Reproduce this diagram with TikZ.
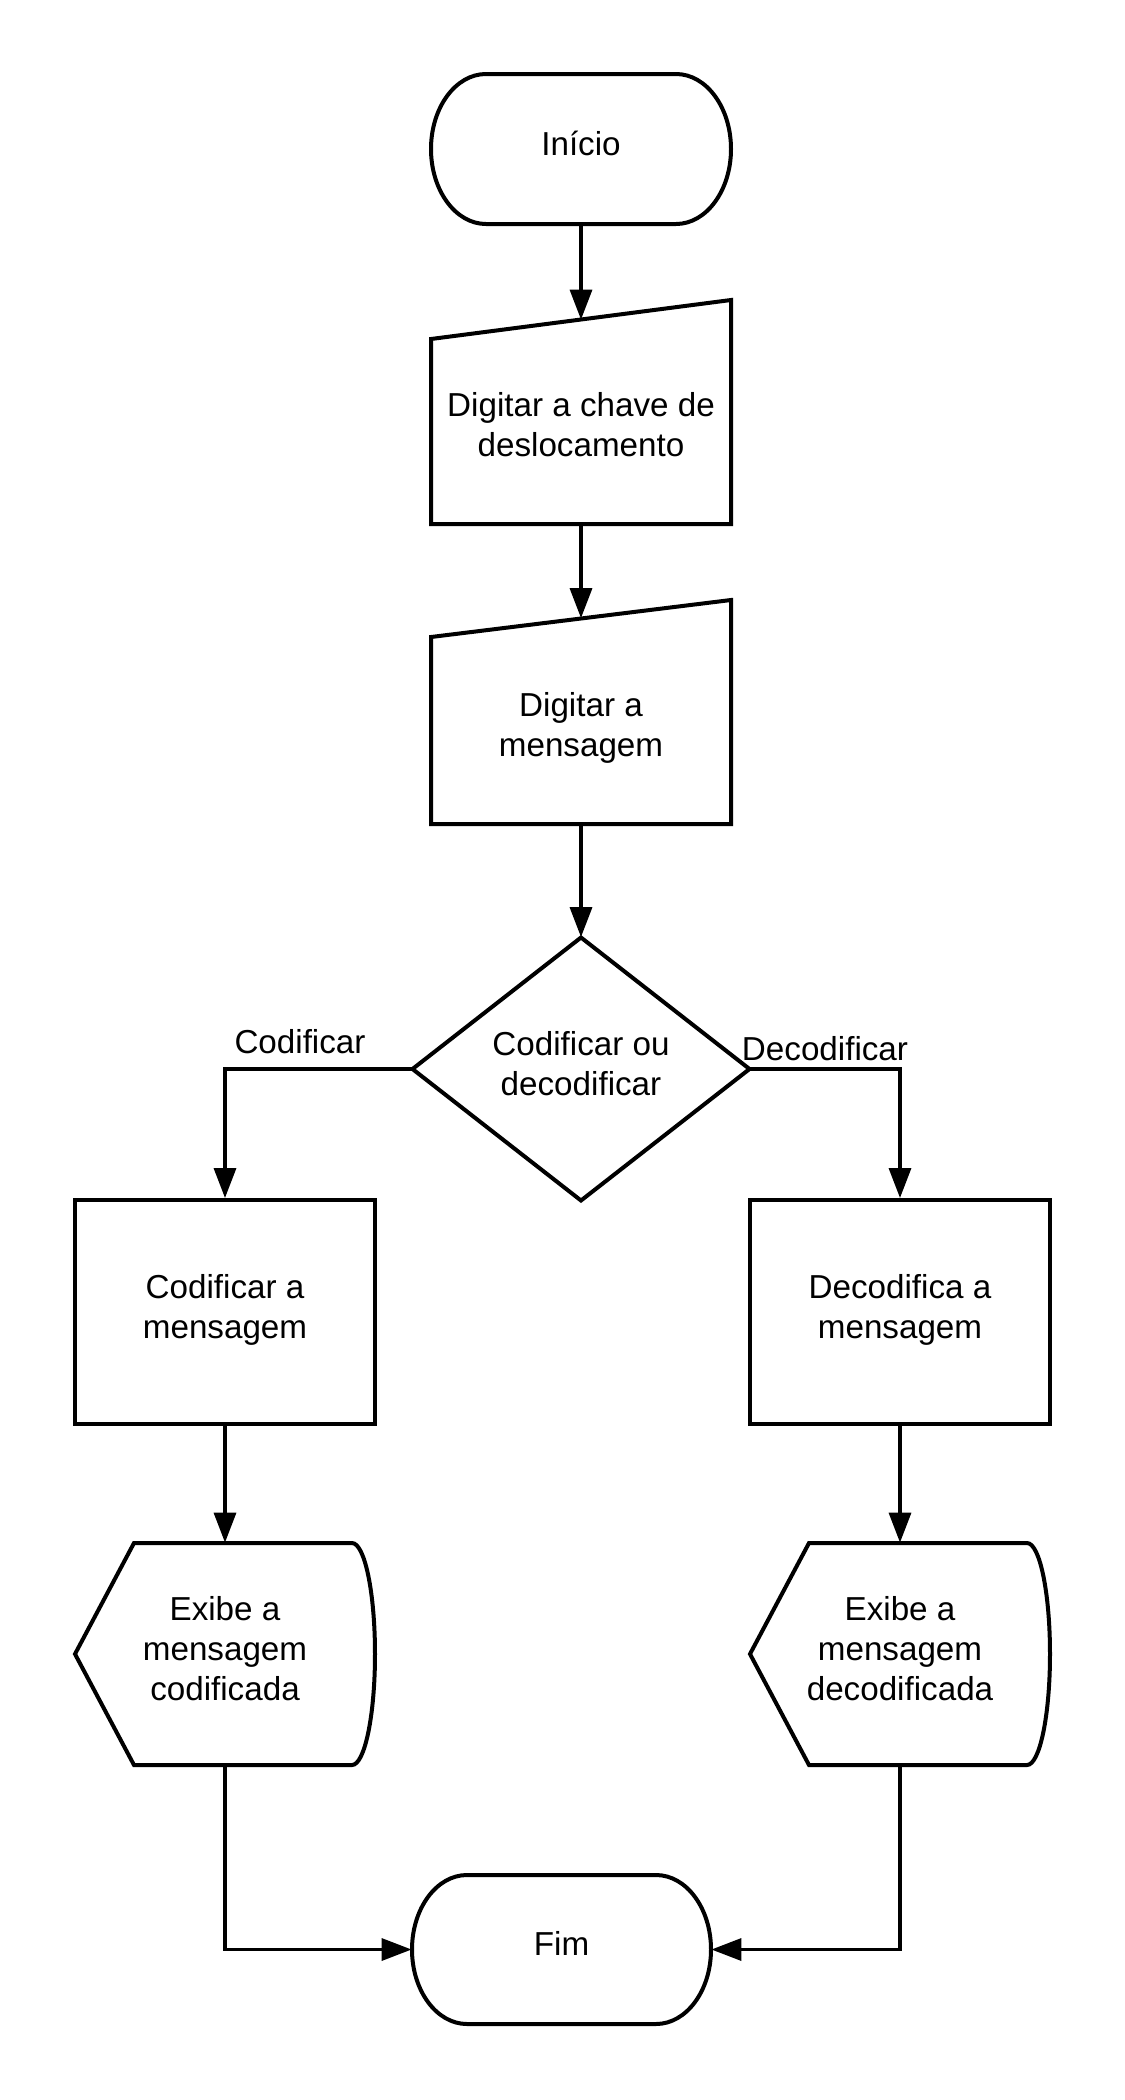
\documentclass[tikz,border=0pt]{standalone}
\usepackage{fontspec}
\setmainfont{Liberation Sans}
\usetikzlibrary{arrows.meta}
\newcommand\txtblk[2][1pt]{\raisebox{#1}[\height][\depth]{\begin{tabular}{@{}c@{}}#2\end{tabular}}}
\begin{document}
\begin{tikzpicture}[x=0.5pt,y=-0.5pt,
  txt/.style={font=\fontsize{16.6}{20}\selectfont, align=center, inner sep=0pt},
  boxn/.style={txt, minimum width=150pt},
  outline/.style={draw=black, line width=2pt, line join=miter},
  conn/.style={draw=black, line width=1.7pt, line join=miter, -{Triangle[length=15pt,width=11pt]}},
  lbl/.style={font=\fontsize{16.6}{20}\selectfont, inner sep=0pt}]
\useasboundingbox[fill=white] (0,0) rectangle (1125,2100);

% Inicio
\node[boxn, minimum height=75pt] (inicio) at (581,149) {\txtblk{Início}};
\draw[outline] (486,74) -- (676,74) arc[start angle=90,end angle=-90,x radius=27.5pt,y radius=37.5pt] -- (486,224) arc[start angle=270,end angle=90,x radius=27.5pt,y radius=37.5pt] -- cycle;

% Manual input 1
\node[boxn, minimum height=102pt] (in1) at (581,422) {\txtblk[-3.35pt]{Digitar a chave de\\deslocamento}};
\draw[outline] (431,339) -- (731,300) -- (731,524) -- (431,524) -- cycle;

% Manual input 2
\node[boxn, minimum height=102.5pt] (in2) at (581,721) {\txtblk[-3.85pt]{Digitar a\\mensagem}};
\draw[outline] (431,637) -- (731,600) -- (731,824) -- (431,824) -- cycle;

% Decision
\node[boxn, minimum width=168.5pt, minimum height=131.5pt] (dec) at (581,1069) {\txtblk{Codificar ou\\decodificar}};
\draw[outline] (581,937.5) -- (749.5,1069) -- (581,1200.5) -- (412.5,1069) -- cycle;

% Process boxes
\node[boxn, outline, minimum height=112pt] (cod) at (225,1312) {\txtblk{Codificar a\\mensagem}};
\node[boxn, outline, minimum height=112pt] (decb) at (900,1312) {\txtblk{Decodifica a\\mensagem}};

% Display shapes
\node[boxn, minimum height=111pt] (disp1) at (225,1654) {\txtblk{Exibe a\\mensagem\\codificada}};
\draw[outline] (75,1654) -- (134,1543) -- (352,1543) arc[start angle=90,end angle=-90,x radius=11.5pt,y radius=55.5pt] -- (134,1765) -- cycle;
\node[boxn, minimum height=111pt] (disp2) at (900,1654) {\txtblk{Exibe a\\mensagem\\decodificada}};
\draw[outline] (750,1654) -- (809,1543) -- (1027,1543) arc[start angle=90,end angle=-90,x radius=11.5pt,y radius=55.5pt] -- (809,1765) -- cycle;

% Fim
\node[boxn, minimum width=149.5pt, minimum height=74.5pt] (fim) at (561.5,1949.5) {\txtblk{Fim}};
\draw[outline] (467,1875) -- (656,1875) arc[start angle=90,end angle=-90,x radius=27.5pt,y radius=37.25pt] -- (467,2024) arc[start angle=270,end angle=90,x radius=27.5pt,y radius=37.25pt] -- cycle;

% Branch labels
\node[lbl] (lcod) at (300,1042) {Codificar};
\node[lbl] (ldec) at (825,1049) {Decodificar};

% Connectors
\draw[conn] (inicio.south) -- (in1.north);
\draw[conn] (in1.south) -- (in2.north);
\draw[conn] (in2.south) -- (dec.north);
\draw[conn] (dec.west) -| (cod.north);
\draw[conn] (dec.east) -| (decb.north);
\draw[conn] (cod.south) -- (disp1.north);
\draw[conn] (decb.south) -- (disp2.north);
\draw[conn] (disp1.south) |- (fim.west);
\draw[conn] (disp2.south) |- (fim.east);
\end{tikzpicture}
\end{document}
